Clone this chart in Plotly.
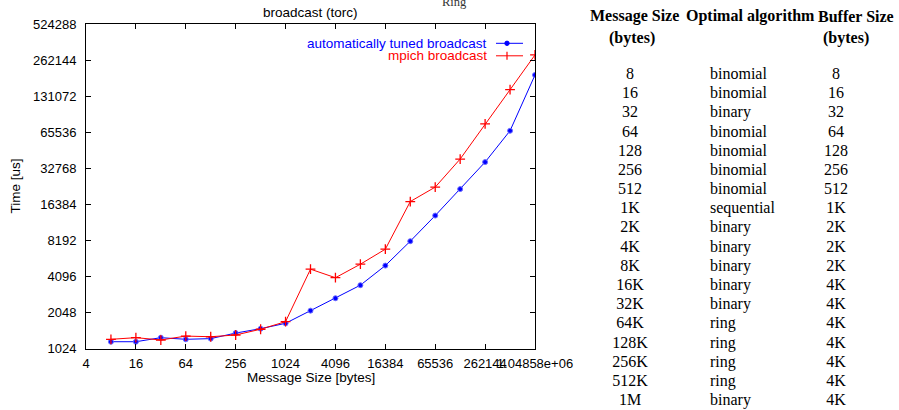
import math
import plotly.graph_objects as go

# Broadcast timings on the torc cluster (microseconds) per message size (bytes)
msg_sizes = [8, 16, 32, 64, 128, 256, 512, 1024, 2048, 4096, 8192, 16384,
             32768, 65536, 131072, 262144, 524288, 1048576]
tuned_us = [1171, 1171, 1266, 1227, 1243, 1383, 1505, 1669, 2129, 2703, 3474,
            5063, 8095, 13250, 22050, 37060, 67700, 197800]
mpich_us = [1227, 1266, 1211, 1305, 1289, 1333, 1489, 1722, 4725, 4010, 5200,
            6940, 17350, 22900, 39300, 77400, 149000, 291000]

x_tick_vals = [4, 16, 64, 256, 1024, 4096, 16384, 65536, 262144, 1048576]
x_tick_text = ["4", "16", "64", "256", "1024", "4096", "16384", "65536",
               "262144", "1.04858e+06"]
y_tick_vals = [1024, 2048, 4096, 8192, 16384, 32768, 65536, 131072, 262144, 524288]
y_tick_text = [str(v) for v in y_tick_vals]

# Table of selected algorithms
table_headers = ["Message Size<br>(bytes)", "Optimal algorithm", "Buffer Size<br>(bytes)"]
table_sizes = ["8", "16", "32", "64", "128", "256", "512", "1K", "2K", "4K", "8K",
               "16K", "32K", "64K", "128K", "256K", "512K", "1M"]
table_algos = ["binomial", "binomial", "binary", "binomial", "binomial", "binomial",
               "binomial", "sequential", "binary", "binary", "binary", "binary",
               "binary", "ring", "ring", "ring", "ring", "binary"]
table_buffers = ["8", "16", "32", "64", "128", "256", "512", "1K", "2K", "2K", "2K",
                 "4K", "4K", "4K", "4K", "4K", "4K", "4K"]

W, H = 899, 410
SANS = "Liberation Sans, Arial, Helvetica, sans-serif"
SERIF = "Liberation Serif, Times New Roman, serif"
BLUE = "#0000ff"
RED = "#ff0000"

# plot box in pixels
PL, PR, PT, PB = 86, 535, 24.3, 348.7

fig = go.Figure()

fig.add_trace(go.Scatter(
    x=msg_sizes, y=tuned_us, mode="lines+markers",
    name="automatically tuned broadcast",
    line=dict(color=BLUE, width=1),
    marker=dict(symbol="circle", size=5, color=BLUE,
                line=dict(color="#6f6fff", width=1)),
    showlegend=False,
))
fig.add_trace(go.Scatter(
    x=msg_sizes, y=mpich_us, mode="lines+markers",
    name="mpich broadcast",
    line=dict(color=RED, width=1),
    marker=dict(symbol="cross-thin", size=7, line=dict(color=RED, width=1.3)),
    showlegend=False,
))

# table columns drawn as text on a pixel-unit axis pair
rows = list(range(len(table_sizes)))
ROW0, ROWH = 75.0, 19.18
COL_SIZE, COL_ALGO, COL_BUF = 630, 710, 836
tfont = dict(family=SERIF, size=16, color="black")
fig.add_trace(go.Scatter(x=[COL_SIZE] * len(rows), y=rows, text=table_sizes,
                         mode="text", textposition="middle center", textfont=tfont,
                         xaxis="x2", yaxis="y2", showlegend=False, hoverinfo="skip",
                         cliponaxis=False))
fig.add_trace(go.Scatter(x=[COL_ALGO] * len(rows), y=rows, text=table_algos,
                         mode="text", textposition="middle right", textfont=tfont,
                         xaxis="x2", yaxis="y2", showlegend=False, hoverinfo="skip",
                         cliponaxis=False))
fig.add_trace(go.Scatter(x=[COL_BUF] * len(rows), y=rows, text=table_buffers,
                         mode="text", textposition="middle center", textfont=tfont,
                         xaxis="x2", yaxis="y2", showlegend=False, hoverinfo="skip",
                         cliponaxis=False))

axis_common = dict(
    showgrid=False, zeroline=False, showline=True, linecolor="black", linewidth=1,
    mirror="ticks", ticks="inside", ticklen=5, tickcolor="black", tickwidth=1,
    tickfont=dict(family=SANS, size=13, color="black"), automargin=False,
)

fig.update_layout(
    width=W, height=H,
    margin=dict(l=0, r=0, t=0, b=0, autoexpand=False),
    paper_bgcolor="white", plot_bgcolor="white",
    showlegend=False,
    xaxis=dict(
        type="log", range=[math.log10(4), math.log10(1048576)],
        domain=[PL / W, PR / W], anchor="y",
        tickmode="array", tickvals=x_tick_vals, ticktext=x_tick_text, tickangle=0,
        ticklabelstandoff=3,
        **axis_common,
    ),
    yaxis=dict(
        type="log", range=[math.log10(1024), math.log10(524288)],
        domain=[(H - PB) / H, (H - PT) / H], anchor="x",
        tickmode="array", tickvals=y_tick_vals, ticktext=y_tick_text,
        ticklabelstandoff=6,
        **axis_common,
    ),
    xaxis2=dict(range=[580, 899], domain=[580 / W, 1.0], anchor="y2",
                visible=False, fixedrange=True, automargin=False),
    yaxis2=dict(range=[(H - ROW0) / ROWH, -ROW0 / ROWH], domain=[0, 1], anchor="x2",
                visible=False, fixedrange=True, automargin=False),
)

# axis titles
fig.add_annotation(text="Message Size [bytes]", xref="paper", yref="paper",
                   x=(PL + PR) / 2 / W, y=1 - 377 / H, xanchor="center", yanchor="middle",
                   showarrow=False, font=dict(family=SANS, size=13.5, color="black"))
fig.add_annotation(text="Time [us]", xref="paper", yref="paper", textangle=-90,
                   x=15 / W, y=1 - (PT + PB) / 2 / H, xanchor="center", yanchor="middle",
                   showarrow=False, font=dict(family=SANS, size=13.5, color="black"))

# title and small caption at the very top
fig.add_annotation(text="broadcast (torc)", xref="paper", yref="paper",
                   x=(PL + PR) / 2 / W, y=1 - 12 / H, xanchor="center", yanchor="middle",
                   showarrow=False, font=dict(family=SANS, size=13.5, color="black"))
fig.add_annotation(text="Ring", xref="paper", yref="paper",
                   x=454 / W, y=1 - 1.5 / H, xanchor="center", yanchor="middle",
                   showarrow=False, font=dict(family=SERIF, size=12.5, color="#333333"))

# key in the upper right of the plot: label, then line sample with marker
key_rows = [("automatically tuned broadcast", BLUE, 43.3, "dot"),
            ("mpich broadcast", RED, 55.8, "plus")]
for label, color, ypx, mk in key_rows:
    yp = 1 - ypx / H
    fig.add_annotation(text=label, xref="paper", yref="paper", x=489 / W, y=yp,
                       xanchor="right", yanchor="middle", showarrow=False,
                       font=dict(family=SANS, size=13.5, color=color))
    fig.add_shape(type="line", xref="paper", yref="paper", x0=496 / W, x1=523 / W,
                  y0=yp, y1=yp, line=dict(color=color, width=1))
    cx = 507
    if mk == "dot":
        fig.add_shape(type="circle", xref="paper", yref="paper",
                      x0=(cx - 2.2) / W, x1=(cx + 2.2) / W,
                      y0=yp - 2.2 / H, y1=yp + 2.2 / H,
                      line=dict(color=color, width=1), fillcolor=color)
    else:
        fig.add_shape(type="line", xref="paper", yref="paper", x0=cx / W, x1=cx / W,
                      y0=yp - 4 / H, y1=yp + 4 / H, line=dict(color=color, width=1.2))

# table header cells
header_pos = [(634, 632), (750, None), (856, 846)]
for text, (x1, x2) in zip(table_headers, header_pos):
    parts = text.split("<br>")
    fig.add_annotation(text="<b>" + parts[0] + "</b>", xref="x2", yref="y2",
                       x=x1, y=(16 - ROW0) / ROWH, xanchor="center", yanchor="middle",
                       showarrow=False, font=dict(family=SERIF, size=16, color="black"))
    if len(parts) > 1:
        fig.add_annotation(text="<b>" + parts[1] + "</b>", xref="x2", yref="y2",
                           x=x2, y=(38 - ROW0) / ROWH, xanchor="center", yanchor="middle",
                           showarrow=False, font=dict(family=SERIF, size=16, color="black"))

fig.write_html("out.html")
